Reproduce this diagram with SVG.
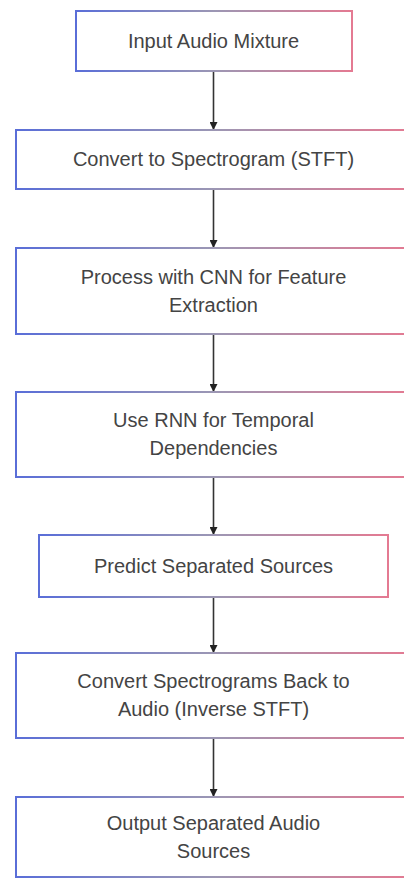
<svg xmlns="http://www.w3.org/2000/svg" width="404" height="879" viewBox="0 0 404 879">
<defs>
<linearGradient id="edge" x1="0" y1="0" x2="1" y2="0">
<stop offset="0" stop-color="#5a6ed8"/>
<stop offset="0.5" stop-color="#9c97b4"/>
<stop offset="1" stop-color="#e47a92"/>
</linearGradient>
<marker id="arr" viewBox="0 0 10 10" refX="10" refY="5" markerWidth="8" markerHeight="8" markerUnits="userSpaceOnUse" orient="auto">
<path d="M0,0 L10,5 L0,10 z" fill="#222"/>
</marker>
<style>
.box{fill:#fff;stroke:url(#edge);stroke-width:2}
.t{font-family:"Liberation Sans",Arial,Helvetica,sans-serif;font-size:20px;fill:#444;text-anchor:middle}
.c{stroke:#333;stroke-width:1.6;fill:none;marker-end:url(#arr)}
</style>
</defs>
<rect width="404" height="879" fill="#fff"/>
<g id="connectors">
<line class="c" x1="213.5" y1="71" x2="213.5" y2="130"/>
<line class="c" x1="213.5" y1="189" x2="213.5" y2="248"/>
<line class="c" x1="213.5" y1="334" x2="213.5" y2="392"/>
<line class="c" x1="213.5" y1="477" x2="213.5" y2="535"/>
<line class="c" x1="213.5" y1="597" x2="213.5" y2="653"/>
<line class="c" x1="213.5" y1="738" x2="213.5" y2="797"/>
</g>
<g id="n1"><rect class="box" x="76" y="11" width="276" height="60"/><text class="t" x="213.5" y="48">Input Audio Mixture</text></g>
<g id="n2"><rect class="box" x="16" y="130" width="395" height="59"/><text class="t" x="213.5" y="166">Convert to Spectrogram (STFT)</text></g>
<g id="n3"><rect class="box" x="16" y="248" width="395" height="86"/><text class="t" x="213.5" y="284">Process with CNN for Feature</text><text class="t" x="213.5" y="312">Extraction</text></g>
<g id="n4"><rect class="box" x="16" y="392" width="395" height="85"/><text class="t" x="213.5" y="427">Use RNN for Temporal</text><text class="t" x="213.5" y="455">Dependencies</text></g>
<g id="n5"><rect class="box" x="39" y="535" width="349" height="62"/><text class="t" x="213.5" y="573">Predict Separated Sources</text></g>
<g id="n6"><rect class="box" x="16" y="653" width="395" height="85"/><text class="t" x="213.5" y="688">Convert Spectrograms Back to</text><text class="t" x="213.5" y="716">Audio (Inverse STFT)</text></g>
<g id="n7"><rect class="box" x="16" y="797" width="395" height="80"/><text class="t" x="213.5" y="830">Output Separated Audio</text><text class="t" x="213.5" y="858">Sources</text></g>
</svg>
